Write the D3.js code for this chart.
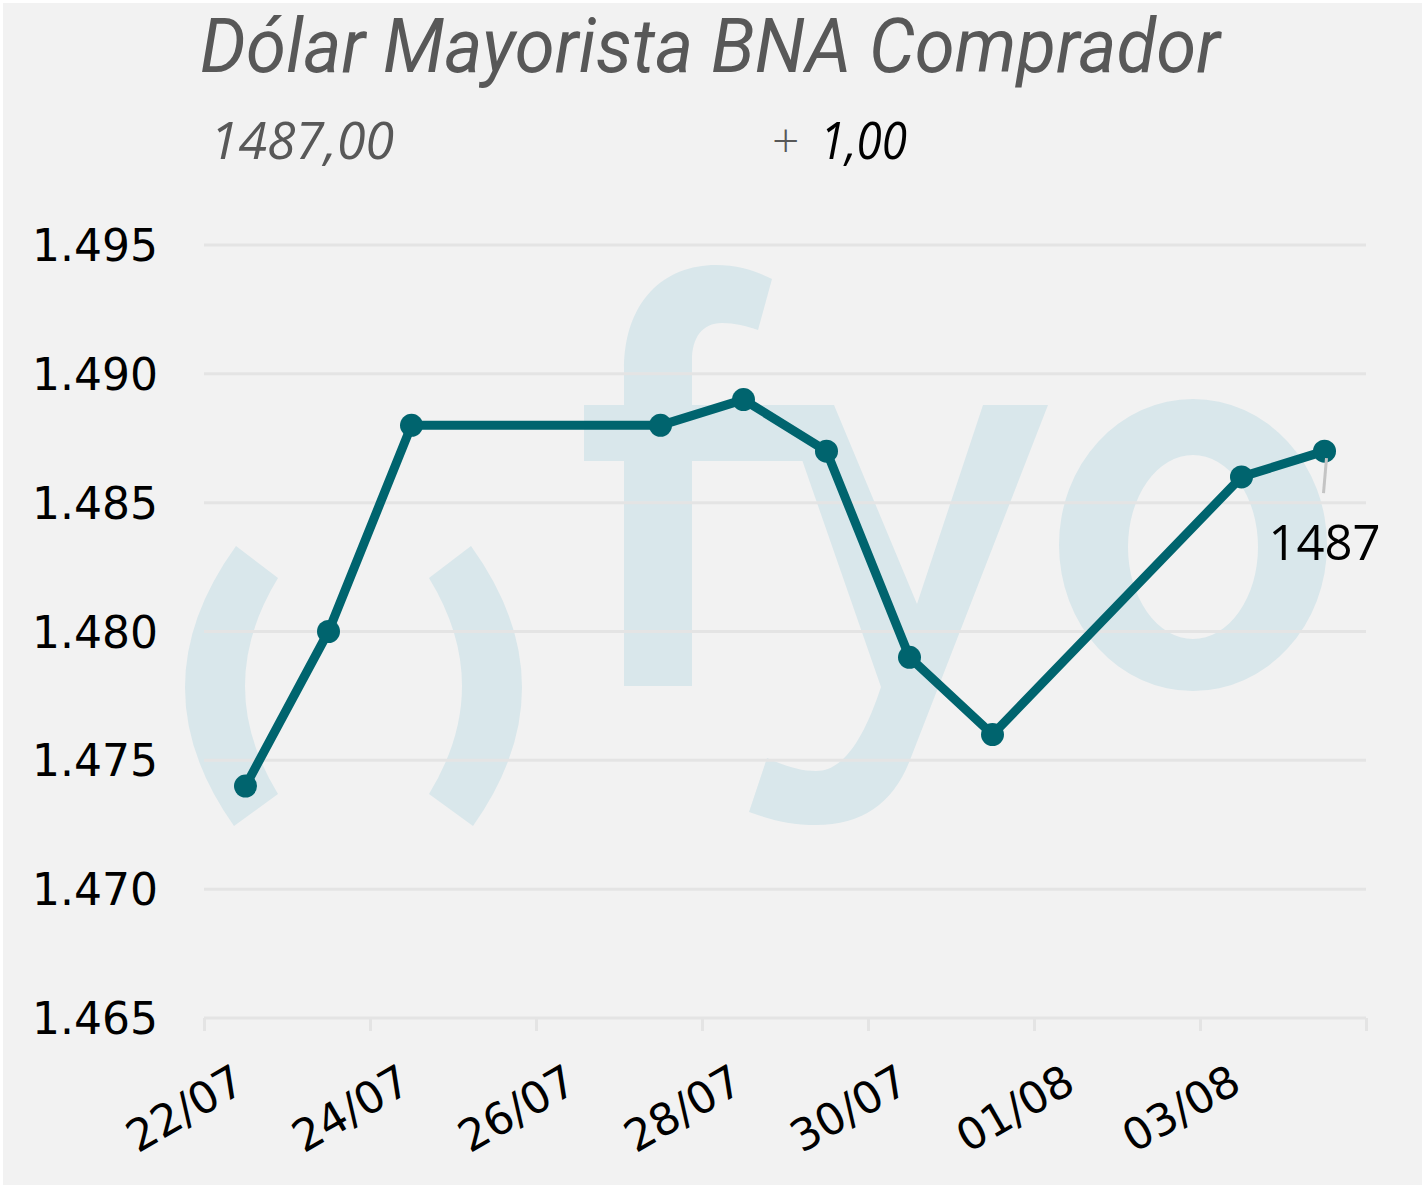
<!DOCTYPE html>
<html>
<head>
<meta charset="utf-8">
<script src="https://cdn.jsdelivr.net/npm/d3@7"></script>
<style>
  body { margin: 0; background: #fff; }
  svg { display: block; }
</style>
</head>
<body>
<div id="chart"></div>
<script>
// data
var dates  = ["22/07", "23/07", "24/07", "27/07", "28/07", "29/07", "30/07", "31/07", "03/08", "04/08"];
var values = [1474, 1480, 1488, 1488, 1489, 1487, 1479, 1476, 1486, 1487];
var xTickLabels = ["22/07", "24/07", "26/07", "28/07", "30/07", "01/08", "03/08"];
var yTicks = [1465, 1470, 1475, 1480, 1485, 1490, 1495];
var title = "Dólar Mayorista BNA Comprador";
var lastValue = "1487,00";
var change = "1,00";

var W = 1422, H = 1185;
var margin = {top: 245, right: 56, bottom: 167, left: 204};

var parseDay = function(s) {
  var p = s.split("/");
  return new Date(2025, +p[1] - 1, +p[0]);
};

var svg = d3.select("#chart")
  .append("svg")
    .attr("width", W)
    .attr("height", H);

svg.append("rect")
  .attr("x", 3).attr("y", 3)
  .attr("width", W - 3).attr("height", H - 3)
  .attr("fill", "#f2f2f2");

// scales: each day is centered in its own slot, so the domain goes half a day each side
var first = parseDay(dates[0]), last = parseDay(dates[dates.length - 1]);
var x = d3.scaleTime()
  .domain([d3.timeHour.offset(first, -12), d3.timeHour.offset(last, 12)])
  .range([margin.left, W - margin.right]);

var y = d3.scaleLinear()
  .domain([d3.min(yTicks), d3.max(yTicks)])
  .range([H - margin.bottom, margin.top]);

// watermark logo
var wm = svg.append("g").attr("fill", "#d9e7eb");
wm.append("path").attr("d", "M236,546 Q135,686 234,826 L278,794 Q212,686 278,578 Z");
wm.append("path").attr("d", "M471,546 Q572,686 473,826 L429,794 Q495,686 429,578 Z");
wm.append("path").attr("d", "M624,686 L624,370 C624,300 665,265 716,265 C740,265 758,272 772,279 L758,330 C746,326 735,323 722,323 C702,323 692,338 692,360 L692,686 Z");
wm.append("path").attr("d", "M584,405 L832,405 L832,461 L584,461 Z");
wm.append("path").attr("d", "M783,405 L834,405 L917,604 L983,405 L1048,405 L910,760 Q885,825 816,825 C790,825 768,819 749,812 L767,758 C785,766 800,771 816,771 C845,771 865,735 881,687 Z");
wm.append("path")
  .attr("fill-rule", "evenodd")
  .attr("d", "M1059,545 A134,146 0 1,0 1327,545 A134,146 0 1,0 1059,545 Z M1128,547 A65,92 0 1,0 1258,547 A65,92 0 1,0 1128,547 Z");

// grid
svg.append("g")
  .selectAll("line")
  .data(yTicks.slice(1))
  .join("line")
    .attr("x1", margin.left).attr("x2", W - margin.right)
    .attr("y1", function(d) { return y(d); })
    .attr("y2", function(d) { return y(d); })
    .attr("stroke", "#e4e4e4")
    .attr("stroke-width", 3);

// y axis labels
var esLocale = d3.formatLocale({decimal: ",", thousands: ".", grouping: [3], currency: ["$", ""]});
var fmt = esLocale.format(",");
svg.append("g")
  .selectAll("text")
  .data(yTicks)
  .join("text")
    .attr("x", 158)
    .attr("y", function(d) { return y(d) + 16; })
    .attr("text-anchor", "end")
    .style("font-family", "'DejaVu Sans', Verdana, sans-serif")
    .style("font-size", "44px")
    .style("fill", "#000")
    .text(function(d) { return fmt(d); });

// x axis line + ticks
var tickDates = d3.range(0, 8).map(function(i) { return d3.timeHour.offset(first, -12 + 48 * i); });
var xAxis = svg.append("g")
  .attr("transform", "translate(0," + y(d3.min(yTicks)) + ")")
  .call(d3.axisBottom(x).tickValues(tickDates).tickSize(13).tickFormat(""));
xAxis.select(".domain").attr("stroke", "#e4e4e4").attr("stroke-width", 3).attr("d", "M" + x.range()[0] + ",0H" + x.range()[1]);
xAxis.selectAll(".tick line").attr("stroke", "#e4e4e4").attr("stroke-width", 3);

svg.append("g")
  .selectAll("text")
  .data(xTickLabels)
  .join("text")
    .attr("transform", function(d) {
      return "translate(" + (x(parseDay(d)) + 2) + ",1090) rotate(-30)";
    })
    .attr("text-anchor", "end")
    .style("font-family", "'DejaVu Sans', Verdana, sans-serif")
    .style("font-size", "44px")
    .style("fill", "#000")
    .text(function(d) { return d; });

// the series
var pts = dates.map(function(d, i) { return {date: parseDay(d), value: values[i]}; });

svg.append("path")
  .datum(pts)
  .attr("fill", "none")
  .attr("stroke", "#00646e")
  .attr("stroke-width", 9)
  .attr("stroke-linejoin", "round")
  .attr("d", d3.line()
    .x(function(d) { return x(d.date); })
    .y(function(d) { return y(d.value); }));

svg.append("g")
  .selectAll("circle")
  .data(pts)
  .join("circle")
    .attr("cx", function(d) { return x(d.date); })
    .attr("cy", function(d) { return y(d.value); })
    .attr("r", 11.5)
    .attr("fill", "#00646e");

// label on the last point
var lp = pts[pts.length - 1];
svg.append("line")
  .attr("x1", x(lp.date) + 2).attr("y1", y(lp.value) + 7)
  .attr("x2", x(lp.date) - 1).attr("y2", y(lp.value) + 42)
  .attr("stroke", "#c4c4c4")
  .attr("stroke-width", 3);
svg.append("text")
  .attr("x", x(lp.date))
  .attr("y", y(lp.value) + 109)
  .attr("text-anchor", "middle")
  .style("font-family", "'Open Sans', sans-serif")
  .style("font-size", "49px")
  .style("fill", "#000")
  .text(lp.value);

// header
function fitText(sel, w) {
  sel.attr("textLength", w).attr("lengthAdjust", "spacingAndGlyphs");
}
svg.append("text")
  .attr("x", 200).attr("y", 72)
  .style("font-family", "Roboto, sans-serif")
  .style("font-style", "italic")
  .style("font-size", "76px")
  .style("fill", "#585858")
  .text(title)
  .call(fitText, 1020);

svg.append("text")
  .attr("x", 210).attr("y", 159)
  .style("font-family", "'Open Sans', sans-serif")
  .style("font-style", "italic")
  .style("font-size", "52px")
  .style("fill", "#585858")
  .text(lastValue)
  .call(fitText, 184);

svg.append("text")
  .attr("x", 772).attr("y", 158)
  .style("font-family", "'Open Sans', sans-serif")
  .style("font-weight", "300")
  .style("font-size", "48px")
  .style("fill", "#585858")
  .text("+");

svg.append("text")
  .attr("x", 820).attr("y", 159)
  .style("font-family", "'Open Sans', sans-serif")
  .style("font-style", "italic")
  .style("font-size", "52px")
  .style("fill", "#000")
  .text(change)
  .call(fitText, 87);
</script>
</body>
</html>
